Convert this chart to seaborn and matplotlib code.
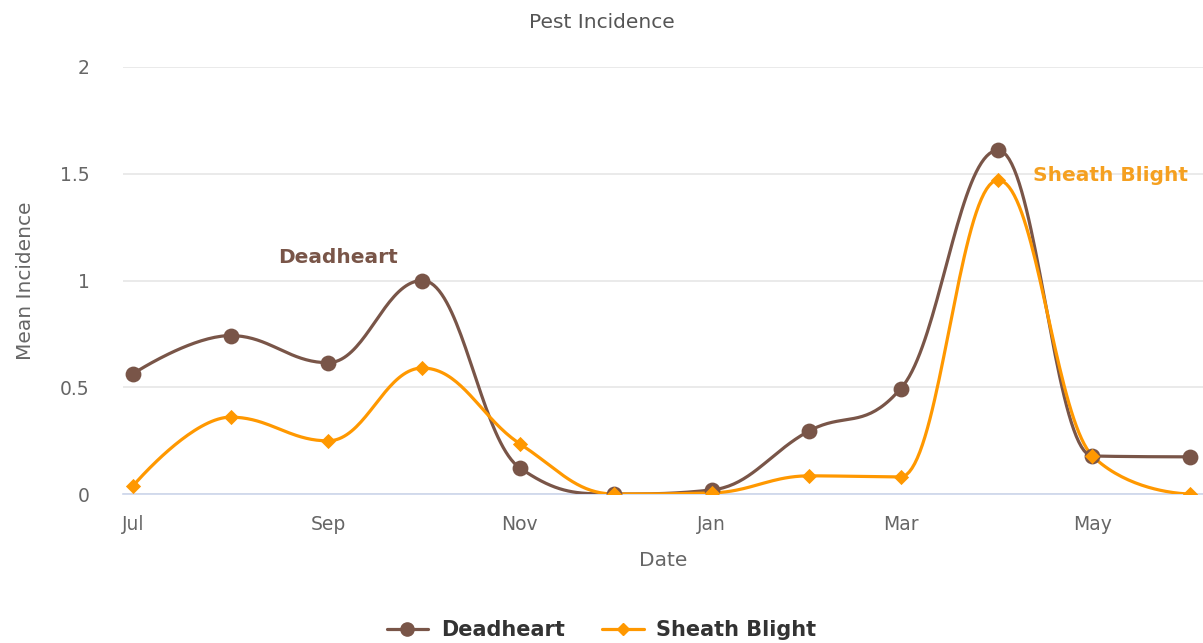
import numpy as np
import pandas as pd
import matplotlib
matplotlib.use("Agg")
import matplotlib.pyplot as plt
import matplotlib.dates as mdates
from matplotlib.lines import Line2D
import seaborn as sns

# ---- data ----
months = ["2023-07-01", "2023-08-01", "2023-09-01", "2023-10-01", "2023-11-01", "2023-12-01",
          "2024-01-01", "2024-02-01", "2024-03-01", "2024-04-01", "2024-05-01", "2024-06-01"]
deadheart = [0.563, 0.742, 0.615, 1.0, 0.122, 0.0, 0.019, 0.296, 0.493, 1.61, 0.178, 0.174]
sheath_blight = [0.038, 0.36, 0.249, 0.59, 0.235, 0.0, 0.005, 0.085, 0.08, 1.47, 0.178, 0.0]
series_names = ["Deadheart", "Sheath Blight"]
colors = ["#795548", "#FF9800"]
tick_months = ["2023-07-01", "2023-09-01", "2023-11-01", "2024-01-01", "2024-03-01", "2024-05-01"]
tick_labels = ["Jul", "Sep", "Nov", "Jan", "Mar", "May"]
y_ticks = [0, 0.5, 1, 1.5, 2]
y_tick_labels = ["0", "0.5", "1", "1.5", "2"]


def spline_curve(xs, ys, n=40, smoothing=1.5):
    """Highcharts-style spline through the points (rendering only)."""
    xs = np.asarray(xs, float)
    ys = np.asarray(ys, float)
    m = len(xs)
    lc = [(xs[i], ys[i]) for i in range(m)]
    rc = [(xs[i], ys[i]) for i in range(m)]
    denom = smoothing + 1
    for i in range(1, m - 1):
        px, py = xs[i], ys[i]
        lx, ly = xs[i - 1], ys[i - 1]
        nx, ny = xs[i + 1], ys[i + 1]
        lcx = (smoothing * px + lx) / denom
        lcy = (smoothing * py + ly) / denom
        rcx = (smoothing * px + nx) / denom
        rcy = (smoothing * py + ny) / denom
        corr = 0.0
        if rcx != lcx:
            corr = ((rcy - lcy) * (rcx - px)) / (rcx - lcx) + py - rcy
        lcy += corr
        rcy += corr
        if lcy > ly and lcy > py:
            lcy = max(ly, py)
            rcy = 2 * py - lcy
        elif lcy < ly and lcy < py:
            lcy = min(ly, py)
            rcy = 2 * py - lcy
        if rcy > ny and rcy > py:
            rcy = max(ny, py)
            lcy = 2 * py - rcy
        elif rcy < ny and rcy < py:
            rcy = min(ny, py)
            lcy = 2 * py - rcy
        lc[i] = (lcx, lcy)
        rc[i] = (rcx, rcy)
    t = np.linspace(0, 1, n)
    ox, oy = [], []
    for i in range(1, m):
        p0 = (xs[i - 1], ys[i - 1])
        p1 = rc[i - 1]
        p2 = lc[i]
        p3 = (xs[i], ys[i])
        bx = ((1 - t) ** 3) * p0[0] + 3 * ((1 - t) ** 2) * t * p1[0] + 3 * (1 - t) * t ** 2 * p2[0] + t ** 3 * p3[0]
        by = ((1 - t) ** 3) * p0[1] + 3 * ((1 - t) ** 2) * t * p1[1] + 3 * (1 - t) * t ** 2 * p2[1] + t ** 3 * p3[1]
        if i > 1:
            bx, by = bx[1:], by[1:]
        ox.extend(bx)
        oy.extend(by)
    return np.array(ox), np.array(oy)


dates = pd.to_datetime(months)
xnum = mdates.date2num(dates)

points = pd.DataFrame({
    "date": np.concatenate([xnum, xnum]),
    "value": deadheart + sheath_blight,
    "series": [series_names[0]] * len(months) + [series_names[1]] * len(months),
})

curves = []
for name, vals in zip(series_names, [deadheart, sheath_blight]):
    cx, cy = spline_curve(xnum, vals)
    curves.append(pd.DataFrame({"date": cx, "value": cy, "series": name, "order": np.arange(len(cx))}))
curves = pd.concat(curves, ignore_index=True)

sns.set_theme(style="white")
plt.rcParams["font.family"] = ["DejaVu Sans"]

W, H = 1203, 643
fig = plt.figure(figsize=(W / 100, H / 100), dpi=100)
ax = fig.add_axes([123 / W, (H - 494) / H, (1203 - 123) / W, (494 - 67) / H])

palette = dict(zip(series_names, colors))
for name in series_names:
    sub = curves[curves["series"] == name]
    sns.lineplot(data=sub, x="date", y="value", color=palette[name], linewidth=2.3,
                 sort=False, estimator=None, ax=ax, legend=False, zorder=3)

sns.scatterplot(data=points[points["series"] == series_names[0]], x="date", y="value",
                color=colors[0], marker="o", s=130, edgecolor=colors[0], linewidth=0,
                ax=ax, legend=False, zorder=4)
sns.scatterplot(data=points[points["series"] == series_names[1]], x="date", y="value",
                color=colors[1], marker="D", s=60, edgecolor=colors[1], linewidth=0,
                ax=ax, legend=False, zorder=5)

# axes range
x0 = xnum[0] - (133 - 123) / 3.146
x1 = xnum[-1] + (1203 - 1190) / 3.146
ax.set_xlim(x0, x1)
ax.set_ylim(0, 2)

ax.set_yticks(y_ticks)
ax.set_yticklabels(y_tick_labels)
ax.set_xticks(mdates.date2num(pd.to_datetime(tick_months)))
ax.set_xticklabels(tick_labels)

ax.grid(axis="y", color="#e6e6e6", linewidth=1.2)
ax.grid(axis="x", visible=False)
for s in ["top", "right", "left"]:
    ax.spines[s].set_visible(False)
ax.spines["bottom"].set_color("#ccd6eb")
ax.spines["bottom"].set_linewidth(1.2)
ax.spines["bottom"].set_zorder(2)
ax.tick_params(axis="x", colors="#ccd6eb", length=10, width=1.2, direction="out",
               labelcolor="#666666", labelsize=13.5, pad=5)
ax.tick_params(axis="y", length=0, labelcolor="#666666", labelsize=13.5, pad=24)

ax.set_xlabel("Date", color="#666666", fontsize=14.5, labelpad=12)
ax.set_ylabel("Mean Incidence", color="#666666", fontsize=14.5, labelpad=18)
fig.text(0.5, 1 - 22 / H, "Pest Incidence", ha="center", va="center",
         color="#555555", fontsize=14.5)

# series labels
ax.text(0.199, 0.553, "Deadheart", transform=ax.transAxes, ha="center", va="center",
        color=colors[0], fontsize=14.5, fontweight="bold", zorder=6)
ax.text(0.914, 0.745, "Sheath Blight", transform=ax.transAxes, ha="center", va="center",
        color="#F5A020", fontsize=14.5, fontweight="bold", zorder=6)

handles = [
    Line2D([], [], color=colors[0], marker="o", markersize=9.5, linewidth=2.3),
    Line2D([], [], color=colors[1], marker="D", markersize=6, linewidth=2.3),
]
leg = fig.legend(handles, series_names, loc="center", bbox_to_anchor=(0.5, 1 - 630 / H),
                 ncol=2, frameon=False, handlelength=2.0, handletextpad=0.6, columnspacing=1.8,
                 prop={"weight": "bold", "size": 15})
for t in leg.get_texts():
    t.set_color("#333333")

fig.savefig("out.png", dpi=100)
